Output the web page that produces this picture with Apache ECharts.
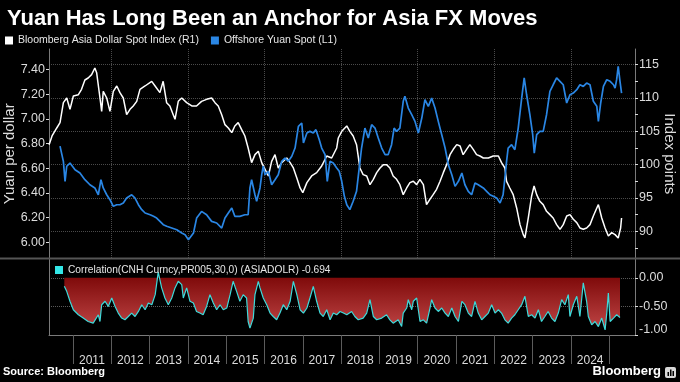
<!DOCTYPE html>
<html><head><meta charset="utf-8">
<script src="https://cdn.jsdelivr.net/npm/echarts@6/dist/echarts.min.js"></script>
<style>html,body{margin:0;padding:0;background:#000;}#c{width:680px;height:382px;}</style>
</head><body><div id="c"></div>
<script>
const asiaDollar = [
['2010-05-20',103.0],['2010-06-17',104.3],['2010-08-01',105.5],['2010-09-01',106.3],['2010-10-03',109.3],['2010-11-04',110.0],['2010-12-05',108.3],
['2011-01-06',110.3],['2011-02-23',110.5],['2011-03-25',111.3],['2011-04-26',112.7],['2011-05-27',113.0],['2011-06-29',113.5],['2011-07-30',114.5],['2011-08-16',113.8],['2011-09-17',110.0],['2011-10-03',108.0],['2011-10-18',111.0],['2011-11-20',110.0],['2011-12-21',108.0],
['2012-01-22',111.0],['2012-02-24',111.8],['2012-03-25',110.8],['2012-04-26',110.0],['2012-05-28',107.5],['2012-06-29',108.3],['2012-07-30',108.8],['2012-09-01',109.5],['2012-10-02',111.3],['2012-11-19',111.8],
['2013-01-22',112.5],['2013-02-23',111.8],['2013-04-10',110.8],['2013-05-11',112.5],['2013-06-13',109.3],['2013-07-14',108.8],['2013-08-15',107.5],['2013-09-01',106.8],['2013-10-02',109.5],['2013-11-04',110.0],['2013-12-21',109.3],
['2014-02-08',108.8],['2014-03-25',108.8],['2014-05-12',109.5],['2014-06-29',109.8],['2014-08-16',110.0],['2014-09-17',109.3],['2014-10-18',108.8],['2014-11-20',107.5],['2014-12-21',106.0],
['2015-01-22',105.5],['2015-02-24',104.8],['2015-03-25',105.8],['2015-04-26',106.3],['2015-05-28',105.3],['2015-06-29',104.3],['2015-07-30',102.5],['2015-09-01',100.3],['2015-10-03',101.5],['2015-11-04',102.0],['2015-12-06',100.3],
['2016-01-07',99.3],['2016-02-08',98.3],['2016-03-10',100.5],['2016-04-11',101.5],['2016-05-12',99.5],['2016-06-14',100.3],['2016-08-01',101.0],['2016-09-02',100.3],['2016-10-03',99.5],['2016-11-05',98.0],['2016-12-06',96.5],
['2017-01-01',95.8],['2017-02-09',97.3],['2017-03-26',98.3],['2017-05-13',98.8],['2017-06-30',99.8],['2017-08-17',101.3],['2017-10-03',101.0],['2017-11-20',102.5],['2017-12-05',104.0],
['2018-01-07',105.0],['2018-02-24',105.8],['2018-03-25',105.0],['2018-04-26',104.3],['2018-05-28',103.0],['2018-06-29',99.5],['2018-07-30',98.5],['2018-09-02',98.3],['2018-10-03',97.0],['2018-11-04',97.8],['2018-12-06',98.8],
['2019-01-07',99.5],['2019-02-08',100.0],['2019-03-10',100.0],['2019-04-11',99.5],['2019-05-12',98.3],['2019-06-14',97.8],['2019-07-15',97.0],['2019-08-16',95.5],['2019-09-18',96.5],['2019-10-19',97.3],['2019-11-20',97.5],['2019-12-22',97.0],
['2020-01-22',97.8],['2020-02-24',97.0],['2020-03-25',94.0],['2020-04-26',94.8],['2020-05-27',95.5],['2020-06-29',96.3],['2020-08-01',97.5],['2020-09-01',98.8],['2020-10-03',100.0],['2020-11-04',101.5],['2020-12-05',102.3],
['2021-01-07',103.0],['2021-02-08',102.8],['2021-03-09',101.5],['2021-04-11',102.3],['2021-05-12',103.0],['2021-06-13',102.3],['2021-07-15',101.5],['2021-08-16',101.3],['2021-09-17',101.0],['2021-11-04',101.0],['2021-12-21',101.3],
['2022-02-08',101.3],['2022-03-10',100.3],['2022-04-11',99.5],['2022-04-27',97.5],['2022-05-28',96.5],['2022-06-29',95.5],['2022-08-01',93.5],['2022-09-02',91.0],['2022-10-03',89.5],['2022-10-19',89.0],['2022-11-20',92.0],['2022-12-22',95.3],
['2023-01-14',96.8],['2023-02-08',95.5],['2023-03-10',94.5],['2023-04-11',94.0],['2023-05-13',93.0],['2023-06-14',92.5],['2023-07-15',92.0],['2023-08-17',91.0],['2023-09-18',90.3],['2023-10-19',91.0],['2023-11-21',92.3],['2023-12-22',92.5],
['2024-01-23',91.8],['2024-02-25',91.3],['2024-03-26',90.5],['2024-04-27',90.3],['2024-05-29',90.5],['2024-06-30',91.0],['2024-08-01',92.3],['2024-09-03',93.5],['2024-09-18',94.0],['2024-10-20',92.0],['2024-11-21',90.5],['2024-12-22',89.3],
['2025-01-23',89.8],['2025-02-24',89.5],['2025-03-26',89.0],['2025-04-18',90.5],['2025-04-27',92.0]
];
const offshoreYuan = [
['2010-09-01',6.78],['2010-09-17',6.765],['2010-10-03',6.657],['2010-10-19',6.495],['2010-11-04',6.617],['2010-12-05',6.643],['2010-12-22',6.657],
['2011-01-22',6.589],['2011-03-10',6.562],['2011-04-26',6.508],['2011-06-13',6.467],['2011-07-30',6.441],['2011-09-01',6.386],['2011-09-26',6.508],['2011-10-18',6.441],['2011-11-20',6.386],['2011-12-21',6.346],
['2012-01-22',6.292],['2012-02-24',6.305],['2012-03-25',6.305],['2012-04-26',6.319],['2012-05-28',6.359],['2012-07-15',6.386],['2012-08-16',6.359],['2012-09-17',6.305],['2012-10-19',6.265],['2012-11-20',6.238],
['2013-01-07',6.224],['2013-02-08',6.211],['2013-03-10',6.197],['2013-04-11',6.17],['2013-05-12',6.143],['2013-06-14',6.13],['2013-08-01',6.116],['2013-09-18',6.102],['2013-11-04',6.076],['2013-12-06',6.062],
['2014-01-07',6.021],['2014-01-23',6.021],['2014-02-24',6.076],['2014-03-26',6.197],['2014-05-12',6.251],['2014-06-29',6.224],['2014-08-16',6.17],['2014-10-03',6.157],['2014-11-20',6.116],['2014-12-21',6.197],
['2015-01-22',6.238],['2015-02-24',6.278],['2015-03-25',6.211],['2015-05-12',6.211],['2015-06-29',6.224],['2015-07-30',6.224],['2015-08-16',6.441],['2015-09-01',6.508],['2015-10-03',6.386],['2015-10-19',6.333],['2015-11-20',6.441],['2015-12-06',6.548],['2015-12-21',6.617],
['2016-01-07',6.548],['2016-02-08',6.576],['2016-03-10',6.467],['2016-04-11',6.508],['2016-05-12',6.548],['2016-06-14',6.657],['2016-07-15',6.684],['2016-08-16',6.657],['2016-09-18',6.698],['2016-10-19',6.765],['2016-11-20',6.941],['2016-12-22',6.968],
['2017-01-07',6.806],['2017-02-09',6.887],['2017-03-10',6.90],['2017-04-11',6.887],['2017-05-06',6.914],['2017-06-07',6.832],['2017-06-30',6.765],['2017-08-01',6.711],['2017-08-22',6.495],['2017-09-17',6.657],['2017-10-18',6.643],['2017-11-20',6.603],['2017-12-14',6.576],
['2018-01-07',6.495],['2018-02-01',6.373],['2018-02-24',6.305],['2018-03-25',6.265],['2018-04-26',6.333],['2018-05-28',6.414],['2018-06-19',6.576],['2018-07-15',6.765],['2018-08-16',6.927],['2018-09-17',6.846],['2018-10-19',6.954],['2018-11-20',6.927],['2018-12-21',6.846],
['2019-01-23',6.765],['2019-02-24',6.711],['2019-03-25',6.711],['2019-04-27',6.792],['2019-05-21',6.927],['2019-06-14',6.90],['2019-07-15',6.927],['2019-08-16',7.144],['2019-09-01',7.184],['2019-10-03',7.089],['2019-11-05',7.035],['2019-12-06',6.981],
['2020-01-07',6.887],['2020-02-09',7.008],['2020-03-10',7.157],['2020-04-11',7.103],['2020-05-13',7.17],['2020-06-14',7.089],['2020-07-15',6.981],['2020-08-17',6.873],['2020-09-18',6.765],['2020-10-19',6.63],['2020-11-21',6.548],['2020-12-22',6.454],
['2021-01-23',6.495],['2021-02-25',6.562],['2021-03-26',6.467],['2021-04-27',6.414],['2021-05-29',6.386],['2021-06-30',6.481],['2021-07-31',6.467],['2021-09-17',6.441],['2021-10-19',6.414],['2021-11-20',6.386],['2021-12-21',6.373],
['2022-01-23',6.359],['2022-02-24',6.319],['2022-03-25',6.386],['2022-04-11',6.522],['2022-04-27',6.657],['2022-05-12',6.765],['2022-06-14',6.792],['2022-07-15',6.751],['2022-08-16',6.927],['2022-09-18',7.17],['2022-10-12',7.333],['2022-11-04',7.197],['2022-12-05',7.035],
['2023-01-01',6.873],['2023-01-16',6.724],['2023-02-08',6.873],['2023-03-10',6.90],['2023-04-11',6.90],['2023-05-13',7.035],['2023-06-14',7.225],['2023-07-15',7.278],['2023-08-17',7.333],['2023-09-18',7.306],['2023-10-19',7.278],['2023-11-21',7.13],['2023-12-22',7.197],
['2024-01-23',7.211],['2024-02-25',7.238],['2024-03-26',7.278],['2024-04-27',7.265],['2024-05-29',7.292],['2024-06-30',7.278],['2024-08-01',7.144],['2024-09-03',7.103],['2024-09-18',6.981],['2024-10-10',7.13],['2024-11-05',7.265],['2024-12-07',7.319],
['2025-01-08',7.306],['2025-02-09',7.278],['2025-02-24',7.251],['2025-03-11',7.319],['2025-03-26',7.428],['2025-04-12',7.306],['2025-04-27',7.211]
];
const correlation = [
['2010-10-12',-0.148],['2010-11-04',-0.236],['2010-12-05',-0.41],
['2011-01-06',-0.558],['2011-02-23',-0.646],['2011-04-10',-0.704],['2011-05-27',-0.764],['2011-07-14',-0.793],['2011-09-01',-0.646],['2011-09-17',-0.764],['2011-10-03',-0.47],['2011-11-04',-0.41],['2011-12-05',-0.5],
['2012-01-07',-0.352],['2012-02-08',-0.5],['2012-03-09',-0.616],['2012-04-11',-0.704],['2012-05-12',-0.734],['2012-06-13',-0.676],['2012-07-15',-0.616],['2012-08-16',-0.676],['2012-09-17',-0.588],['2012-10-19',-0.47],['2012-11-20',-0.558],['2012-12-21',-0.44],
['2013-01-23',-0.47],['2013-02-24',-0.294],['2013-03-25',0.1],['2013-04-27',-0.176],['2013-05-28',-0.352],['2013-06-29',-0.47],['2013-08-01',-0.352],['2013-09-01',-0.176],['2013-10-02',-0.06],['2013-11-04',-0.118],['2013-11-19',-0.352],['2013-12-21',-0.176],
['2014-01-22',-0.41],['2014-02-23',-0.44],['2014-03-25',-0.588],['2014-04-26',-0.616],['2014-05-27',-0.646],['2014-06-29',-0.5],['2014-07-31',-0.294],['2014-09-01',-0.44],['2014-10-03',-0.558],['2014-11-04',-0.47],['2014-12-05',-0.558],
['2015-01-07',-0.528],['2015-02-08',-0.294],['2015-03-09',-0.06],['2015-04-11',-0.236],['2015-05-12',-0.41],['2015-06-13',-0.294],['2015-07-15',-0.352],['2015-07-30',-0.764],['2015-08-16',-0.88],['2015-09-17',-0.704],['2015-10-03',-0.294],['2015-11-04',-0.06],['2015-11-20',-0.176],['2015-12-21',-0.352],
['2016-01-23',-0.47],['2016-02-24',-0.616],['2016-03-25',-0.676],['2016-04-27',-0.734],['2016-05-28',-0.616],['2016-06-29',-0.47],['2016-08-01',-0.558],['2016-09-02',-0.41],['2016-10-03',-0.06],['2016-11-05',-0.294],['2016-12-06',-0.558],
['2017-01-07',-0.616],['2017-02-09',-0.528],['2017-03-10',-0.352],['2017-04-11',-0.148],['2017-05-13',-0.41],['2017-06-14',-0.616],['2017-07-15',-0.676],['2017-08-17',-0.558],['2017-09-18',-0.734],['2017-10-19',-0.616],['2017-11-20',-0.646],['2017-12-22',-0.588],
['2018-01-23',-0.616],['2018-02-24',-0.646],['2018-04-11',-0.588],['2018-05-12',-0.676],['2018-06-13',-0.734],['2018-07-30',-0.704],['2018-09-02',-0.616],['2018-10-03',-0.382],['2018-11-04',-0.676],['2018-12-06',-0.734],
['2019-01-23',-0.704],['2019-03-10',-0.646],['2019-04-11',-0.734],['2019-05-12',-0.793],['2019-06-29',-0.734],['2019-08-01',-0.852],['2019-08-16',-0.616],['2019-09-18',-0.528],['2019-10-03',-0.382],['2019-11-05',-0.558],['2019-11-20',-0.41],['2019-12-22',-0.352],
['2020-01-23',-0.764],['2020-02-24',-0.734],['2020-03-26',-0.793],['2020-04-27',-0.528],['2020-05-13',-0.382],['2020-06-14',-0.528],['2020-07-15',-0.588],['2020-08-17',-0.528],['2020-09-18',-0.616],['2020-10-19',-0.676],['2020-11-21',-0.528],['2020-12-22',-0.676],
['2021-01-23',-0.764],['2021-02-25',-0.41],['2021-03-26',-0.47],['2021-04-27',-0.616],['2021-05-29',-0.676],['2021-06-30',-0.41],['2021-07-31',-0.616],['2021-09-02',-0.734],['2021-10-03',-0.676],['2021-11-04',-0.616],['2021-12-06',-0.47],
['2022-01-07',-0.616],['2022-02-08',-0.558],['2022-03-10',-0.616],['2022-04-11',-0.734],['2022-05-12',-0.793],['2022-06-14',-0.704],['2022-07-15',-0.646],['2022-08-16',-0.558],['2022-09-18',-0.47],['2022-10-19',-0.323],['2022-11-20',-0.676],['2022-12-22',-0.646],
['2023-01-23',-0.704],['2023-02-24',-0.558],['2023-03-26',-0.764],['2023-04-27',-0.676],['2023-05-28',-0.588],['2023-06-30',-0.704],['2023-08-01',-0.764],['2023-09-02',-0.616],['2023-10-04',-0.382],['2023-11-04',-0.47],['2023-12-06',-0.294],['2023-12-22',-0.676],
['2024-01-23',-0.47],['2024-02-25',-0.323],['2024-03-26',-0.676],['2024-04-27',-0.088],['2024-05-29',-0.41],['2024-06-14',-0.676],['2024-07-16',-0.822],['2024-08-17',-0.764],['2024-09-18',-0.852],['2024-10-20',-0.704],['2024-11-21',-0.91],['2024-12-07',-0.616],['2024-12-22',-0.264],
['2025-01-08',-0.764],['2025-02-09',-0.704],['2025-03-11',-0.646],['2025-04-12',-0.694]
];
const leftTicks = [6.0, 6.2, 6.4, 6.6, 6.8, 7.0, 7.2, 7.4];
const rightLabels = [90, 95, 100, 105, 110, 115];
const rightTicks = [87.5, 90, 92.5, 95, 97.5, 100, 102.5, 105, 107.5, 110, 112.5, 115];
const corrTicks = [-1, -0.5, 0];
const yearLabels = [2011, 2012, 2013, 2014, 2015, 2016, 2017, 2018, 2019, 2020, 2021, 2022, 2023, 2024];
const yearBounds = [2011, 2012, 2013, 2014, 2015, 2016, 2017, 2018, 2019, 2020, 2021, 2022, 2023, 2024, 2025];
const gridYears = [2012, 2014, 2016, 2018, 2020, 2022, 2024];

const NAME_ASIA = 'Bloomberg Asia Dollar Spot Index (R1)';
const NAME_CNH = 'Offshore Yuan Spot (L1)';
const NAME_CORR = 'Correlation(CNH Curncy,PR005,30,0) (ASIADOLR) -0.694';

const FONT = 'Liberation Sans, Arial, sans-serif';
const ts = s => { const p = s.split('-').map(Number); return new Date(p[0], p[1] - 1, p[2]).getTime(); };
const toXY = arr => arr.map(d => [ts(d[0]), d[1]]);
const jan1 = y => new Date(y, 0, 1).getTime();
const midYear = y => new Date(y, 6, 2).getTime();
const X_MIN = new Date(2010, 4, 19).getTime();
const X_MAX = new Date(2025, 8, 2).getTime();

const chart = echarts.init(document.getElementById('c'), null, {renderer: 'canvas'});
const axisGrey = '#7a7a7a';
const labelCol = '#dcdcdc';
const dotted = {show: true, lineStyle: {color: '#4a4a4a', type: 'dotted', width: 1}};

chart.setOption({
  animation: false,
  backgroundColor: '#000',
  title: {
    text: 'Yuan Has Long Been an Anchor for Asia FX Moves',
    left: 2, top: 3,
    textStyle: {color: '#fff', fontSize: 22, fontWeight: 'bold', fontFamily: FONT}
  },
  legend: [
    {data: [NAME_ASIA, NAME_CNH], left: 5, top: 35, padding: 0, icon: 'rect', itemWidth: 8, itemHeight: 8, itemGap: 12,
     selectedMode: false, textStyle: {color: '#e6e6e6', fontSize: 10.5, fontFamily: FONT}},
    {data: [NAME_CORR], left: 55, top: 265, padding: 0, icon: 'rect', itemWidth: 8, itemHeight: 8,
     selectedMode: false, textStyle: {color: '#e6e6e6', fontSize: 10.2, fontFamily: FONT}}
  ],
  grid: [
    {left: 49, right: 45, top: 49, height: 209.5, outerBoundsMode: 'none', containLabel: false},
    {left: 49, right: 45, top: 259, height: 76, outerBoundsMode: 'none', containLabel: false}
  ],
  xAxis: [
    {gridIndex: 0, type: 'value', min: X_MIN, max: X_MAX,
     axisLine: {show: false, onZero: false}, axisLabel: {show: false},
     axisTick: {show: false, customValues: gridYears.map(jan1)},
     splitLine: dotted},
    {gridIndex: 1, type: 'value', min: X_MIN, max: X_MAX, position: 'bottom',
     axisLine: {show: true, onZero: false, lineStyle: {color: axisGrey, width: 1}},
     axisTick: {show: true, length: 29, customValues: yearBounds.map(jan1), lineStyle: {color: '#5c5c5c'}},
     axisLabel: {customValues: yearLabels.map(midYear), color: labelCol, fontSize: 12, fontFamily: FONT, margin: 20,
       formatter: v => String(new Date(v).getFullYear())},
     splitLine: {show: false}}
  ],
  yAxis: [
    {gridIndex: 0, type: 'value', position: 'left', min: 5.869, max: 7.568,
     axisLine: {show: true, onZero: false, lineStyle: {color: axisGrey}},
     axisTick: {show: true, length: 3, customValues: leftTicks, lineStyle: {color: labelCol}},
     axisLabel: {customValues: leftTicks, color: labelCol, fontSize: 12.5, fontFamily: FONT, margin: 4, formatter: v => v.toFixed(2)},
     splitLine: {show: false},
     name: 'Yuan per dollar', nameLocation: 'middle', nameGap: 32, nameMoveOverlap: false,
     nameTextStyle: {color: labelCol, fontSize: 15, fontFamily: FONT}},
    {gridIndex: 0, type: 'value', position: 'right', min: 85.92, max: 117.35,
     axisLine: {show: true, onZero: false, lineStyle: {color: axisGrey}},
     axisTick: {show: true, length: 3, customValues: rightTicks, lineStyle: {color: labelCol}},
     axisLabel: {customValues: rightLabels, color: labelCol, fontSize: 12.5, fontFamily: FONT, margin: 4},
     splitLine: {show: false},
     name: 'Index points', nameLocation: 'middle', nameRotate: -90, nameGap: 27, nameMoveOverlap: false,
     nameTextStyle: {color: labelCol, fontSize: 15, fontFamily: FONT}},
    {gridIndex: 0, type: 'value', position: 'right', min: 85.92, max: 117.35,
     axisLine: {show: false, onZero: false}, axisLabel: {show: false},
     axisTick: {show: false, customValues: rightLabels},
     splitLine: dotted},
    {gridIndex: 1, type: 'value', position: 'right', min: -1, max: 0.33,
     axisLine: {show: true, onZero: false, lineStyle: {color: axisGrey}},
     axisTick: {show: true, length: 3, customValues: corrTicks, lineStyle: {color: labelCol}},
     axisLabel: {customValues: corrTicks, color: labelCol, fontSize: 12.5, fontFamily: FONT, margin: 4,
       formatter: v => v === -1 ? '{up|' + v.toFixed(2) + '}' : v.toFixed(2),
       rich: {up: {color: labelCol, fontSize: 12.5, fontFamily: FONT, padding: [0, 0, 10, 0]}}},
     splitLine: {show: true, showMinLine: false, lineStyle: {color: '#5a5a5a', type: 'dotted', width: 1}}},
    {gridIndex: 1, type: 'value', position: 'left', min: -1, max: 0.33,
     axisLine: {show: true, onZero: false, lineStyle: {color: axisGrey}},
     axisTick: {show: false}, axisLabel: {show: false}, splitLine: {show: false}}
  ],
  series: [
    {name: NAME_ASIA, type: 'line', xAxisIndex: 0, yAxisIndex: 1, data: toXY(asiaDollar),
     symbol: 'none', lineStyle: {color: '#ffffff', width: 1.5}, itemStyle: {color: '#ffffff'}},
    {name: NAME_CNH, type: 'line', xAxisIndex: 0, yAxisIndex: 0, data: toXY(offshoreYuan),
     symbol: 'none', lineStyle: {color: '#2a86e4', width: 1.7}, itemStyle: {color: '#2a86e4'}},
    {name: NAME_CORR, type: 'line', xAxisIndex: 1, yAxisIndex: 3, data: toXY(correlation),
     symbol: 'none', lineStyle: {color: '#3ddada', width: 1.2}, itemStyle: {color: '#33e6e6'},
     areaStyle: {origin: 0, opacity: 1, color: new echarts.graphic.LinearGradient(0, 0, 0, 1, [
       {offset: 0, color: '#780404'}, {offset: 1, color: '#c04646'}])}}
  ],
  graphic: [
    {type: 'rect', left: 0, top: 257.5, shape: {width: 680, height: 2}, style: {fill: '#555'}, z: 100},
    {type: 'text', left: 3, top: 366, style: {text: 'Source: Bloomberg', fill: '#fff', font: 'bold 11px Liberation Sans'}},
    {type: 'text', right: 19, top: 365, style: {text: 'Bloomberg', fill: '#fff', font: 'bold 13px Liberation Sans'}},
    {type: 'group', right: 4, top: 367, children: [
      {type: 'rect', shape: {x: 0, y: 0, width: 11, height: 11, r: 2}, style: {fill: '#d8d8d8'}},
      {type: 'rect', shape: {x: 2.5, y: 5, width: 1.5, height: 4}, style: {fill: '#000'}},
      {type: 'rect', shape: {x: 5, y: 2.5, width: 1.5, height: 6.5}, style: {fill: '#000'}},
      {type: 'rect', shape: {x: 7.5, y: 4, width: 1.5, height: 5}, style: {fill: '#000'}}
    ]}
  ]
});
</script></body></html>
